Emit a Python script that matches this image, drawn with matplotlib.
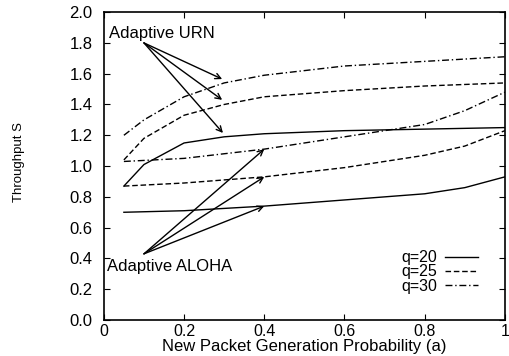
import matplotlib
matplotlib.use("Agg")
import matplotlib.pyplot as plt

plt.rcParams['font.family'] = ['Liberation Sans', 'DejaVu Sans']

a_urn = [0.05, 0.1, 0.2, 0.3, 0.4, 0.6, 0.8, 1.0]
urn_q20 = [0.87, 1.01, 1.15, 1.19, 1.21, 1.23, 1.24, 1.25]
urn_q25 = [1.04, 1.18, 1.33, 1.40, 1.45, 1.49, 1.52, 1.54]
urn_q30 = [1.20, 1.30, 1.45, 1.54, 1.59, 1.65, 1.68, 1.71]

a_aloha = [0.05, 0.2, 0.4, 0.6, 0.8, 0.9, 1.0]
aloha_q20 = [0.70, 0.71, 0.74, 0.78, 0.82, 0.86, 0.93]
aloha_q25 = [0.87, 0.89, 0.93, 0.99, 1.07, 1.13, 1.23]
aloha_q30 = [1.03, 1.05, 1.11, 1.19, 1.27, 1.36, 1.48]

xticks = [0, 0.2, 0.4, 0.6, 0.8, 1.0]
xticklabels = ["0", "0.2", "0.4", "0.6", "0.8", "1"]
yticks = [0.0, 0.2, 0.4, 0.6, 0.8, 1.0, 1.2, 1.4, 1.6, 1.8, 2.0]
yticklabels = ["0.0", "0.2", "0.4", "0.6", "0.8", "1.0", "1.2", "1.4", "1.6", "1.8", "2.0"]

urn_arrow_src = (0.10, 1.80)
urn_arrow_dst = [(0.295, 1.565), (0.295, 1.43), (0.297, 1.215)]
aloha_arrow_src = (0.10, 0.43)
aloha_arrow_dst = [(0.40, 1.11), (0.40, 0.93), (0.40, 0.74)]

fig = plt.figure(figsize=(5.09, 3.56), dpi=100)
ax = fig.add_axes([0.204, 0.101, 0.788, 0.865])

lw = 1.0
ax.plot(a_urn, urn_q20, color='black', lw=lw, ls='-', label='q=20')
ax.plot(a_urn, urn_q25, color='black', lw=lw, ls=(0, (4, 2)), label='q=25')
ax.plot(a_urn, urn_q30, color='black', lw=lw, ls=(0, (5, 2, 1, 2)), label='q=30')
ax.plot(a_aloha, aloha_q20, color='black', lw=lw, ls='-')
ax.plot(a_aloha, aloha_q25, color='black', lw=lw, ls=(0, (4, 2)))
ax.plot(a_aloha, aloha_q30, color='black', lw=lw, ls=(0, (5, 2, 1, 2)))

ax.set_xlim(0, 1)
ax.set_ylim(0, 2.0)
ax.set_xticks(xticks)
ax.set_xticklabels(xticklabels)
ax.set_yticks(yticks)
ax.set_yticklabels(yticklabels)
ax.tick_params(direction='in', top=True, right=True, labelsize=12, length=4)
ax.tick_params(axis='y', pad=8)
ax.tick_params(axis='x', pad=3, labelsize=11.5)
for s in ax.spines.values():
    s.set_linewidth(1.2)

ax.text(0.012, 1.86, "Adaptive URN", fontsize=12, ha='left', va='center')
for d in urn_arrow_dst:
    ax.annotate("", xy=d, xytext=urn_arrow_src,
                arrowprops=dict(arrowstyle='->', color='black', lw=1.0, shrinkA=0, shrinkB=0))
ax.text(0.008, 0.35, "Adaptive ALOHA", fontsize=12, ha='left', va='center')
for d in aloha_arrow_dst:
    ax.annotate("", xy=d, xytext=aloha_arrow_src,
                arrowprops=dict(arrowstyle='->', color='black', lw=1.0, shrinkA=0, shrinkB=0))

ax.legend(loc='lower right', bbox_to_anchor=(0.958, 0.055), frameon=False, markerfirst=False,
          fontsize=11.5, handlelength=2.1, labelspacing=-0.05, handletextpad=0.5,
          borderaxespad=0.2)

ax.set_xlabel("New Packet Generation Probability (a)", fontsize=12, labelpad=0)
fig.text(0.037, 0.545, "Throughput S", rotation=90, fontsize=9.5, ha='center', va='center')

fig.savefig("out.png", dpi=100)
